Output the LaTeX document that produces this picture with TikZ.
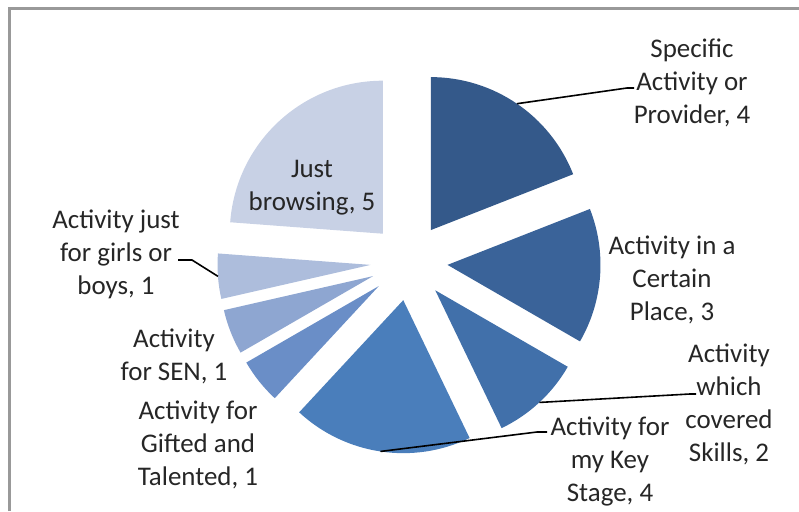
\documentclass[tikz,border=0pt]{standalone}
\usepackage{fontspec}
\setmainfont{Carlito}
\usepackage{tikz}

\definecolor{specblue}{HTML}{34598A}
\definecolor{placeblue}{HTML}{3A6399}
\definecolor{skillblue}{HTML}{4170AA}
\definecolor{stageblue}{HTML}{4A7EBB}
\definecolor{giftblue}{HTML}{6A8EC7}
\definecolor{senblue}{HTML}{8EA6D1}
\definecolor{girlblue}{HTML}{ADBDDC}
\definecolor{browseblue}{HTML}{C8D1E5}

\begin{document}
\begin{tikzpicture}[x=0.75pt,y=0.75pt,
    lbl/.style={align=center, inner sep=0pt, text=black!85,
                font=\fontsize{20.2}{24.75}\selectfont},
    lead/.style={line width=1.2pt, black}]

\useasboundingbox (0,0) rectangle (799,511);

%% frame
\draw[black!40, line width=2.2pt] (9.5,0) -- (9.5,502.5) -- (799,502.5);

%% slices
\fill[specblue, shift={(55.71:38.6)}] (409,249) -- ++(90:153) arc[start angle=90, end angle=21.43, radius=153] -- cycle;        %% specific
\fill[placeblue, shift={(-4.29:38.6)}] (409,249) -- ++(21.43:153) arc[start angle=21.43, end angle=-30, radius=153] -- cycle;    %% place
\fill[skillblue, shift={(-47.14:38.6)}] (409,249) -- ++(-30:153) arc[start angle=-30, end angle=-64.29, radius=153] -- cycle;    %% skills
\fill[stageblue, shift={(-98.57:38.6)}] (409,249) -- ++(-64.29:153) arc[start angle=-64.29, end angle=-132.86, radius=153] -- cycle; %% key stage
\fill[giftblue, shift={(-141.43:38.6)}] (409,249) -- ++(-132.86:153) arc[start angle=-132.86, end angle=-150, radius=153] -- cycle; %% gifted
\fill[senblue, shift={(-158.57:38.6)}] (409,249) -- ++(-150:153) arc[start angle=-150, end angle=-167.14, radius=153] -- cycle;   %% sen
\fill[girlblue, shift={(-175.71:38.6)}] (409,249) -- ++(-167.14:153) arc[start angle=-167.14, end angle=-184.29, radius=153] -- cycle; %% girls
\fill[browseblue, shift={(132.86:38.6)}] (409,249) -- ++(175.71:153) arc[start angle=175.71, end angle=90, radius=153] -- cycle;   %% browsing

%% labels
\node[lbl] (spec) at (692,428) {Specific\\Activity or\\Provider, 4};
\node[lbl] (place) at (672,231) {Activity in a\\Certain\\Place, 3};
\node[lbl] (skill) at (729,107) {Activity\\which\\covered\\Skills, 2};
\node[lbl] (stage) at (610,49) {Activity for\\my Key\\Stage, 4};
\node[lbl] (gift) at (198,66) {Activity for\\Gifted and\\Talented, 1};
\node[lbl] (sen) at (174,155) {Activity\\for SEN, 1};
\node[lbl] (girl) at (116,257) {Activity just\\for girls or\\boys, 1};
\node[lbl] (browse) at (312,323) {Just\\browsing, 5};

%% leader points
\path (409,249) ++(55.71:191.6) coordinate (specarc);
\path (409,249) ++(-47.14:191.6) coordinate (skillarc);
\path (409,249) ++(-98.57:191.6) coordinate (stagearc);
\path (409,249) ++(-175.71:191.6) coordinate (girlarc);
\coordinate (speckink) at (627,423);
\coordinate (specend) at (634,423);
\coordinate (skillkink) at (690,117);
\coordinate (skillend) at (696,117);
\coordinate (stagekink) at (537,79);
\coordinate (stageend) at (547,79);
\coordinate (girlkink) at (192,251);
\coordinate (girlend) at (178,251);

%% leaders
\draw[lead] (specarc) -- (speckink) -- (specend);
\draw[lead] (skillarc) -- (skillkink) -- (skillend);
\draw[lead] (stagearc) -- (stagekink) -- (stageend);
\draw[lead] (girlarc) -- (girlkink) -- (girlend);
\end{tikzpicture}
\end{document}
